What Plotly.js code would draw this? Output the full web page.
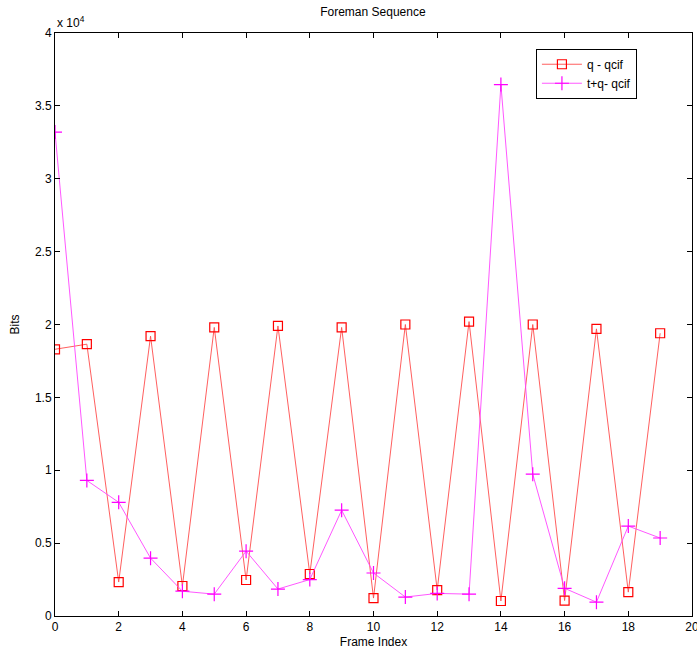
<!DOCTYPE html>
<html>
<head>
<meta charset="utf-8">
<script src="https://cdn.plot.ly/plotly-3.0.1.min.js"></script>
<style>html,body{margin:0;padding:0;background:#fff;}#chart{width:697px;height:650px;}</style>
</head>
<body>
<div id="chart"></div>
<script>
const frames = [0,1,2,3,4,5,6,7,8,9,10,11,12,13,14,15,16,17,18,19];
const qQcif = [18300,18650,2330,19200,2060,19800,2470,19900,2880,19800,1230,20000,1780,20200,1030,20000,1060,19700,1640,19400];
const tqQcif = [33200,9300,7800,3970,1700,1500,4450,1850,2500,7260,2950,1300,1550,1500,36460,9730,1900,950,6170,5350];
const yTickVals = [0,5000,10000,15000,20000,25000,30000,35000,40000];
const yTickText = ['0','0.5','1','1.5','2','2.5','3','3.5','4'];
const xTickVals = [0,2,4,6,8,10,12,14,16,18,20];
const seriesNames = ['q - qcif','t+q- qcif'];

const font = {family:'Arial, "Liberation Sans", sans-serif', size:12, color:'#000'};

const traces = [
  {x:frames, y:qQcif, name:seriesNames[0], type:'scatter', mode:'lines+markers',
   line:{color:'#ff4d4d', width:0.9},
   marker:{symbol:'square-open', size:9, color:'#ff0000', line:{width:1.2, color:'#ff0000'}}},
  {x:frames, y:tqQcif, name:seriesNames[1], type:'scatter', mode:'lines+markers',
   line:{color:'#ff44ff', width:0.9},
   marker:{symbol:'cross-thin-open', size:10, color:'#ff00ff', line:{width:1.2, color:'#ff00ff'}}}
];

const layout = {
  width:697, height:650,
  margin:{l:55, r:5, t:33, b:34},
  paper_bgcolor:'#fff', plot_bgcolor:'#fff',
  font:font,
  showlegend:true,
  title:{text:'Foreman Sequence', font:{family:font.family, size:12, color:'#000'}, x:0.535, xanchor:'center', y:0.982, yanchor:'middle'},
  xaxis:{range:[0,20], tickvals:xTickVals, ticks:'inside', ticklen:5, tickcolor:'#000', showline:true, linecolor:'#000', linewidth:1, mirror:'ticks', showgrid:false, zeroline:false,
         ticklabeloverflow:'allow',
         title:{text:'Frame Index', font:font, standoff:4}, tickfont:font},
  yaxis:{range:[0,40000], tickvals:yTickVals, ticktext:yTickText, ticks:'inside', ticklen:5, tickcolor:'#000', showline:true, linecolor:'#000', linewidth:1, mirror:'ticks', showgrid:false, zeroline:false,
         title:{text:'Bits', font:font, standoff:12}, tickfont:font},
  legend:{x:0.755, y:0.973, xanchor:'left', yanchor:'top', bgcolor:'#fff', bordercolor:'#000', borderwidth:1, font:font, tracegroupgap:0, itemwidth:40},
  annotations:[{xref:'paper', yref:'paper', x:0, y:1, xanchor:'left', yanchor:'bottom', text:'x 10<sup>4</sup>', showarrow:false, font:font, yshift:1}]
};

Plotly.newPlot('chart', traces, layout, {displayModeBar:false, staticPlot:true});
</script>
</body>
</html>
